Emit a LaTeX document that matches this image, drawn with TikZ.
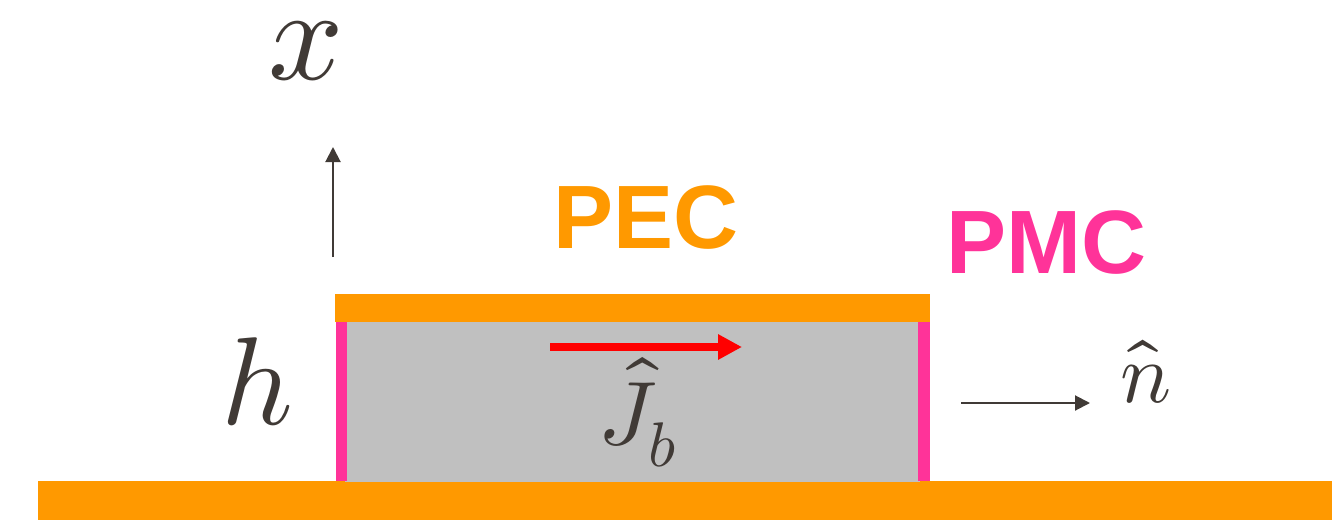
\documentclass[tikz,border=0pt]{standalone}
\usepackage{fontspec}
\usepackage{unicode-math}
\setmathfont{Latin Modern Math}
\newfontfamily\lab{Liberation Sans}
\usetikzlibrary{arrows.meta}
\definecolor{pecorange}{HTML}{FF9900}
\definecolor{pmcpink}{HTML}{FF3399}
\definecolor{fillgray}{HTML}{C0C0C0}
\definecolor{txt}{HTML}{403A36}
\definecolor{jred}{HTML}{FF0000}
\tikzset{
  bar/.style={fill=pecorange, draw=none},
  wall/.style={fill=pmcpink, draw=none},
  axisarrow/.style={draw=txt, line width=2pt, -{Triangle[length=15pt,width=15pt]}},
  currarrow/.style={draw=jred, line width=8pt, -{Triangle[length=24pt,width=24pt]}},
  mathlab/.style={text=txt, inner sep=0pt},
  title/.style={font=\lab\bfseries\fontsize{90}{100}\selectfont, inner sep=0pt}
}
\begin{document}
\begin{tikzpicture}[x=1pt,y=-1pt]
\useasboundingbox (0,0) rectangle (1344,522);
% bottom plate
\path[bar] (38,481) rectangle (1332,520);
% gray dielectric
\path[fill=fillgray] (345,321) rectangle (920,482);
% top plate
\path[bar] (335,294) rectangle (930,322);
% PMC walls
\path[wall] (336,322) rectangle (347,481);
\path[wall] (918,322) rectangle (930,481);
% labels
\node[title, text=pecorange] (pec) at (646,218) {PEC};
\node[title, text=pmcpink] (pmc) at (1046,243) {PMC};
\node[mathlab, font=\fontsize{132}{140}\selectfont] (xl) at (306,51) {$x$};
\node[mathlab, font=\fontsize{125}{130}\selectfont] (hl) at (257,382) {$h$};
\node[mathlab, font=\fontsize{90}{100}\selectfont] (jl) at (638,412) {$\hat{J}_b$};
\node[mathlab, font=\fontsize{85}{90}\selectfont] (nl) at (1146,372) {$\hat{n}$};
% arrows
\coordinate (xs) at (333,257);
\coordinate (xe) at (333,147);
\draw[axisarrow] (xs) -- (xe);
\coordinate (ns) at (961,403);
\coordinate (ne) at (1090,403);
\draw[axisarrow] (ns) -- (ne);
\coordinate (js) at (550,347);
\coordinate (je) at (742,347);
\draw[currarrow] (js) -- (je);
\end{tikzpicture}
\end{document}
